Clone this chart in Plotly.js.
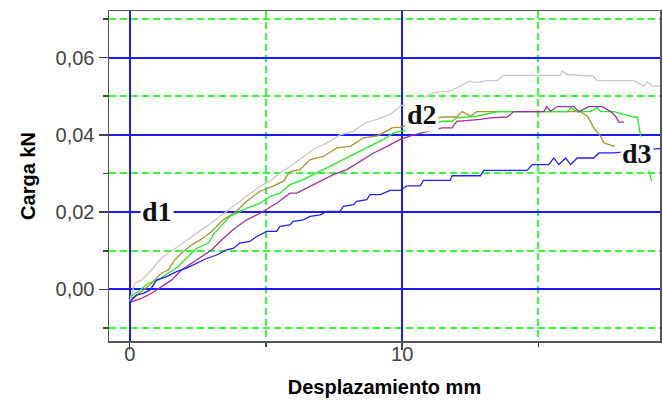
<!DOCTYPE html>
<html>
<head>
<meta charset="utf-8">
<script src="https://cdn.plot.ly/plotly-3.0.1.min.js"></script>
<style>html,body{margin:0;padding:0;background:#fff;}#chart{width:663px;height:414px;}</style>
</head>
<body>
<div id="chart"></div>
<script>
// Series data (x in mm, y in kN)
const grayX = [0,0.18,0.43,0.8,1.04,1.41,1.78,2.27,2.63,2.82,3.31,3.8,4.29,4.78,5.15,5.51,5.88,6.37,6.74,7.23,7.72,8.21,8.64,9.07,9.56,9.93,10.54,11.15,11.76,12.13,12.44,12.74,13.1,13.48,13.72,15.8,15.87,16.05,17.0,17.16,18.5,18.87,19.0,19.18,19.5];
const grayY = [-0.0030,0.0016,0.0024,0.0050,0.0072,0.0094,0.0111,0.0137,0.0154,0.0163,0.0189,0.0215,0.0240,0.0267,0.0280,0.0301,0.0318,0.0344,0.0362,0.0379,0.0400,0.0409,0.0431,0.0440,0.0453,0.0474,0.0487,0.0509,0.0513,0.0526,0.0539,0.0535,0.0540,0.0540,0.0554,0.0554,0.0565,0.0556,0.0552,0.0540,0.0540,0.0526,0.0537,0.0526,0.0526];

const oliveX = [0.06,0.43,0.8,1.16,1.41,1.65,1.9,2.27,2.63,3.0,3.43,3.92,4.29,4.78,5.27,5.64,5.88,6.25,6.62,7.11,7.6,8.09,8.58,9.07,9.31,9.62,9.93,11.46,12.0,12.2,12.5,12.74,16.54,16.8,17.03,17.28,17.4,17.8];
const oliveY = [-0.0023,-0.0006,0.0016,0.0042,0.0050,0.0076,0.0094,0.0115,0.0130,0.0150,0.0180,0.0202,0.0228,0.0254,0.0267,0.0280,0.0305,0.0310,0.0336,0.0344,0.0366,0.0370,0.0392,0.0397,0.0405,0.0418,0.0420,0.0446,0.0446,0.0460,0.0448,0.0460,0.0460,0.0448,0.0418,0.0396,0.0379,0.0370];

const greenX = [0,0.31,0.67,1.04,1.41,1.78,2.14,2.45,2.88,3.1,3.68,4.29,4.78,5.15,5.51,5.88,6.37,6.86,7.35,7.97,8.33,8.82,9.31,9.68,9.93,11.46,11.83,12.0,12.74,13.24,13.48,16.05,16.2,16.4,16.9,17.16,17.28,17.77,18.5,18.63,18.75,19.15];
const greenY = [-0.0019,-0.0006,0.0016,0.0024,0.0042,0.0059,0.0085,0.0106,0.0120,0.0145,0.0189,0.0210,0.0223,0.0240,0.0249,0.0271,0.0284,0.0301,0.0318,0.0340,0.0353,0.0370,0.0388,0.0405,0.0409,0.0435,0.0435,0.0444,0.0448,0.0457,0.0460,0.0460,0.0470,0.0460,0.0460,0.0470,0.0460,0.0460,0.0446,0.0446,0.0396,0.0280];

const purpleX = [0.06,0.43,0.8,1.16,1.53,1.9,2.27,2.63,3.0,3.37,3.8,4.29,4.78,5.39,5.88,6.13,6.5,6.99,7.47,7.97,8.46,8.95,9.44,9.93,10.42,11.46,11.83,12.0,12.87,13.24,13.85,14.1,15.2,15.3,15.44,15.69,16.3,16.48,16.85,17.34,17.65,17.83,17.95,18.14];
const purpleY = [-0.0032,-0.0023,-0.0010,0.0007,0.0024,0.0050,0.0068,0.0085,0.0102,0.0128,0.0155,0.0180,0.0197,0.0223,0.0249,0.0249,0.0262,0.0280,0.0297,0.0310,0.0331,0.0353,0.0370,0.0388,0.0400,0.0418,0.0418,0.0435,0.0440,0.0444,0.0446,0.0460,0.0460,0.0473,0.0461,0.0473,0.0473,0.0460,0.0473,0.0473,0.0460,0.0448,0.0433,0.0433];

const blueX = [0,0.06,0.25,0.49,0.74,0.98,1.35,1.72,2.08,2.33,2.57,2.82,3.19,3.55,3.8,4.04,4.41,4.66,5.03,5.39,5.51,5.88,6.0,6.37,6.62,6.99,7.23,7.72,7.84,8.21,8.33,8.7,8.82,9.19,9.56,9.93,10.17,10.66,10.78,11.76,11.83,12.87,12.99,14.58,14.77,15.38,15.56,15.75,16.0,16.18,16.42,17.03,17.22,17.77,19.43,19.6];
const blueY = [-0.0041,-0.0028,-0.0015,-0.0010,-0.0002,0.0024,0.0033,0.0046,0.0055,0.0063,0.0072,0.0080,0.0089,0.0102,0.0106,0.0120,0.0124,0.0137,0.0150,0.0150,0.0163,0.0167,0.0176,0.0180,0.0189,0.0193,0.0202,0.0202,0.0215,0.0219,0.0228,0.0232,0.0245,0.0245,0.0256,0.0256,0.0268,0.0268,0.0282,0.0282,0.0294,0.0294,0.0308,0.0308,0.0323,0.0323,0.0340,0.0323,0.0340,0.0323,0.0340,0.0340,0.0353,0.0353,0.0364,0.0364];

const curveLabels = ["d1", "d2", "d3"];

function line(x, y, color) {
  return {x: x, y: y, type: 'scatter', mode: 'lines', line: {color: color, width: 1.3}, hoverinfo: 'skip', showlegend: false};
}

const data = [
  line(grayX, grayY, '#c8c8c8'),
  line(oliveX, oliveY, '#a8952e'),
  line(greenX, greenY, '#22ee22'),
  line(purpleX, purpleY, '#a030a0'),
  line(blueX, blueY, '#2020ff')
];

const tickFont = {family: 'Liberation Sans, Arial, sans-serif', size: 20, color: '#444'};
const titleFont = {family: 'Liberation Sans, Arial, sans-serif', size: 20, color: '#000', weight: 'bold'};
const labelFont = {family: 'Liberation Serif, Times New Roman, serif', size: 28, color: '#111', weight: 'bold'};

const gridDash = '7px,4px';

const layout = {
  width: 663, height: 414,
  margin: {l: 109, r: 3, t: 11, b: 73},
  paper_bgcolor: '#ffffff', plot_bgcolor: '#ffffff',
  showlegend: false,
  separators: ',.',
  xaxis: {
    range: [-0.761, 19.46], tickmode: 'linear', tick0: 0, dtick: 10, tickformat: 'd',
    showgrid: true, gridcolor: '#1a1aff', gridwidth: 2, zeroline: false,
    ticks: 'outside', ticklen: 7, tickwidth: 1.5, tickcolor: '#444', ticklabelstandoff: -13,
    showline: true, mirror: true, linecolor: '#555', linewidth: 1.5,
    tickfont: tickFont,
    minor: {tickmode: 'linear', tick0: 0, dtick: 5, showgrid: true, gridcolor: '#33ff33', gridwidth: 2, griddash: gridDash, ticks: 'outside', ticklen: 4, tickcolor: '#444', tickwidth: 1.5},
    title: {text: 'Desplazamiento mm', font: titleFont, standoff: 16}
  },
  yaxis: {
    range: [-0.01335, 0.07203], tickmode: 'linear', tick0: 0, dtick: 0.02, tickformat: '.2f',
    showgrid: true, gridcolor: '#1a1aff', gridwidth: 2, zeroline: false,
    ticks: 'outside', ticklen: 9, tickwidth: 1.5, tickcolor: '#444',
    showline: true, mirror: true, linecolor: '#555', linewidth: 1.5,
    tickfont: tickFont,
    minor: {tickmode: 'linear', tick0: 0, dtick: 0.01, showgrid: true, gridcolor: '#33ff33', gridwidth: 2, griddash: gridDash, ticks: 'outside', ticklen: 5, tickcolor: '#444', tickwidth: 1.5},
    title: {text: 'Carga kN', font: titleFont, standoff: 14}
  },
  annotations: [
    {x: 0.99, y: 0.0201, xref: 'x', yref: 'y', text: curveLabels[0], showarrow: false, font: labelFont, bgcolor: '#ffffff', borderpad: 1},
    {x: 10.72, y: 0.0452, xref: 'x', yref: 'y', text: curveLabels[1], showarrow: false, font: labelFont, bgcolor: '#ffffff', borderpad: 1},
    {x: 18.62, y: 0.0352, xref: 'x', yref: 'y', text: curveLabels[2], showarrow: false, font: labelFont, bgcolor: '#ffffff', borderpad: 1}
  ]
};

Plotly.newPlot('chart', data, layout, {staticPlot: true, displayModeBar: false});
</script>
</body>
</html>
